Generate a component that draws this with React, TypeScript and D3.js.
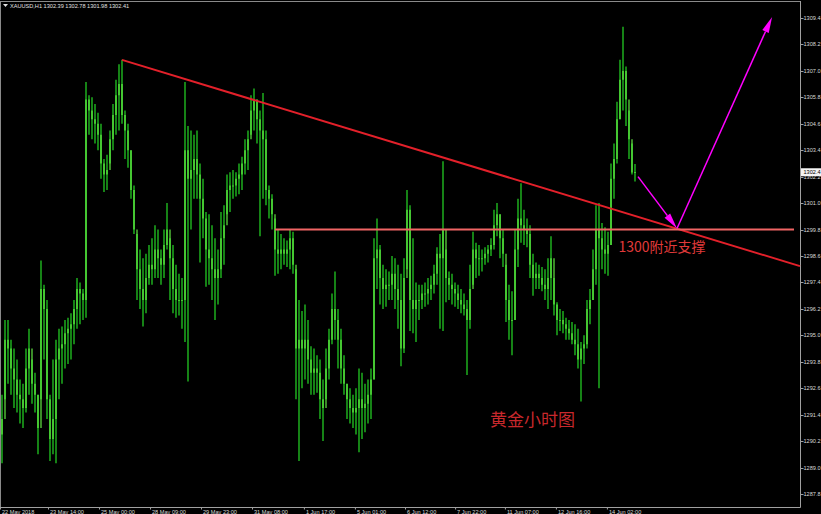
import React from "react";
import * as d3 from "d3";

// ---- data ----
const firstOpen = 1290.5;
const highs = [
  1292.3,1295.7,1295.7,1294.8,1294.4,1293.9,1293.0,1292.8,1294.4,1295.3,
  1293.9,1293.3,1292.3,1298.4,1297.3,1296.6,1292.3,1293.9,1294.8,1295.3,
  1295.4,1295.7,1295.8,1296.0,1296.6,1297.6,1297.4,1297.1,1306.5,1305.9,
  1305.8,1305.5,1305.1,1304.6,1303.0,1303.2,1304.3,1305.5,1306.6,1307.3,
  1307.5,1305.2,1304.6,1303.4,1301.8,1299.6,1298.9,1298.5,1298.7,1299.1,
  1299.4,1300.0,1299.8,1298.9,1299.8,1301.0,1299.4,1299.1,1298.2,1297.8,
  1297.6,1306.5,1304.5,1304.3,1304.1,1304.3,1302.8,1302.1,1300.6,1300.5,
  1300.0,1299.4,1298.9,1300.6,1300.9,1302.3,1302.4,1302.5,1302.4,1302.8,
  1303.1,1303.9,1304.3,1305.9,1306.2,1305.7,1305.2,1306.0,1304.3,1301.8,
  1301.4,1300.3,1299.8,1299.6,1299.4,1299.3,1299.8,1299.7,1298.0,1296.6,
  1296.1,1296.4,1295.7,1294.5,1294.4,1294.1,1293.9,1293.0,1294.4,1295.3,
  1296.9,1297.9,1296.2,1295.3,1294.1,1292.8,1292.6,1292.3,1292.6,1293.5,
  1293.3,1292.8,1293.0,1293.5,1299.4,1300.3,1299.1,1298.2,1298.0,1297.9,
  1298.6,1298.5,1298.2,1297.8,1298.5,1301.6,1300.9,1299.4,1297.4,1297.3,
  1297.3,1297.4,1297.6,1297.7,1298.2,1299.0,1299.6,1302.9,1298.9,1297.9,
  1297.8,1297.4,1297.3,1297.1,1296.9,1296.6,1298.2,1299.7,1299.2,1299.1,
  1298.9,1299.0,1299.1,1299.4,1300.7,1301.0,1300.5,1299.8,1298.2,1297.3,
  1297.0,1299.8,1301.2,1301.9,1300.7,1300.3,1300.0,1298.7,1298.3,1298.2,
  1298.1,1298.0,1298.5,1299.5,1297.6,1296.5,1296.2,1296.1,1295.8,1295.7,
  1295.6,1295.5,1295.3,1294.7,1295.0,1296.6,1297.1,1298.9,1300.9,1301.0,
  1300.1,1299.9,1299.7,1302.8,1303.7,1305.6,1307.5,1309.0,1307.2,1305.2,
  1303.7,1302.78,
];
const lows = [
  1289.2,1292.1,1292.8,1292.3,1291.7,1291.5,1291.0,1290.8,1291.5,1292.3,
  1291.9,1291.5,1289.6,1292.1,1293.9,1291.2,1289.3,1289.6,1289.2,1292.1,
  1292.8,1293.5,1293.7,1293.9,1294.6,1295.3,1295.5,1295.7,1295.8,1304.1,
  1303.9,1303.7,1303.4,1302.1,1301.5,1301.6,1302.8,1303.4,1304.1,1304.3,
  1304.6,1303.0,1302.6,1301.2,1299.6,1296.6,1296.2,1295.4,1296.0,1297.3,
  1297.3,1297.6,1297.6,1297.3,1297.6,1298.9,1296.6,1296.0,1295.8,1295.9,
  1295.3,1294.7,1292.9,1299.8,1301.2,1301.2,1298.3,1299.4,1297.2,1297.3,
  1296.6,1295.7,1296.4,1297.6,1298.2,1300.5,1300.6,1301.2,1301.3,1301.4,
  1301.6,1302.3,1302.5,1304.1,1304.3,1303.7,1299.5,1301.2,1300.9,1300.3,
  1299.8,1297.7,1297.8,1298.0,1298.2,1298.1,1298.0,1297.8,1292.1,1289.3,
  1292.6,1293.0,1292.8,1292.3,1292.3,1292.4,1291.2,1290.2,1292.1,1293.0,
  1294.6,1294.8,1293.5,1292.8,1292.3,1291.2,1291.0,1290.8,1290.5,1289.7,
  1290.3,1290.6,1291.0,1291.2,1293.0,1297.1,1296.4,1296.2,1296.3,1296.6,
  1296.6,1296.2,1295.3,1293.6,1294.2,1298.0,1295.2,1295.1,1294.7,1295.7,
  1296.2,1296.3,1296.4,1296.6,1296.9,1297.3,1295.3,1295.2,1296.5,1296.6,
  1296.4,1296.3,1296.2,1296.0,1295.9,1293.2,1295.3,1297.3,1297.6,1297.7,
  1297.9,1298.2,1298.3,1298.6,1298.9,1299.5,1298.5,1298.1,1295.6,1294.8,
  1294.1,1295.7,1298.1,1299.2,1299.1,1299.0,1297.6,1296.8,1297.1,1297.1,
  1297.0,1296.6,1296.2,1296.6,1295.9,1295.0,1295.2,1295.1,1294.8,1294.8,
  1294.6,1294.1,1293.5,1292.0,1293.7,1294.4,1295.5,1296.6,1297.3,1292.6,
  1298.0,1297.8,1297.7,1299.1,1301.2,1302.8,1304.8,1305.2,1304.5,1303.0,
  1302.3,1301.98,
];
const closes = [
  1291.2,1294.8,1294.4,1293.5,1293.0,1292.3,1292.1,1291.7,1293.5,1294.4,
  1292.8,1292.3,1290.8,1297.1,1296.2,1292.1,1290.3,1291.2,1293.9,1294.4,
  1294.6,1295.1,1295.3,1295.5,1296.2,1297.1,1296.9,1296.6,1305.7,1305.2,
  1304.8,1304.6,1304.1,1302.8,1302.3,1302.5,1303.9,1305.0,1305.9,1306.4,
  1305.0,1304.3,1303.4,1301.6,1299.8,1298.0,1297.1,1296.6,1297.6,1298.2,
  1298.0,1298.9,1298.5,1298.2,1299.1,1299.8,1298.5,1297.1,1296.6,1296.6,
  1296.6,1303.4,1302.1,1302.5,1303.0,1302.3,1301.2,1300.3,1298.9,1298.5,
  1298.0,1297.6,1298.0,1299.4,1300.0,1301.6,1301.8,1301.8,1302.1,1302.3,
  1302.8,1303.4,1303.9,1305.2,1305.7,1304.8,1304.3,1303.9,1301.6,1301.2,
  1300.5,1298.9,1298.7,1298.9,1298.7,1298.9,1299.4,1298.2,1294.4,1294.8,
  1294.4,1294.8,1293.9,1293.3,1293.5,1293.3,1292.1,1291.7,1293.5,1294.8,
  1296.2,1295.7,1294.8,1293.5,1292.8,1292.1,1291.7,1291.5,1291.7,1292.1,
  1291.7,1291.9,1292.3,1293.0,1298.5,1298.9,1297.6,1297.1,1297.3,1297.3,
  1297.8,1297.1,1296.6,1294.4,1297.6,1300.7,1296.6,1296.2,1296.6,1296.6,
  1296.9,1296.9,1297.1,1297.3,1297.8,1298.7,1298.5,1299.8,1297.6,1297.3,
  1297.1,1296.9,1296.6,1296.4,1296.2,1295.7,1297.1,1298.9,1298.5,1298.5,
  1298.5,1298.7,1298.9,1299.1,1300.0,1300.5,1299.4,1298.7,1296.6,1295.7,
  1295.7,1298.9,1300.3,1300.0,1299.8,1299.6,1298.2,1297.6,1297.8,1297.6,
  1297.3,1297.1,1297.6,1298.5,1296.4,1295.7,1295.7,1295.5,1295.3,1295.1,
  1294.8,1294.6,1293.9,1294.4,1294.6,1296.2,1296.6,1298.0,1299.8,1299.4,
  1298.9,1298.7,1299.1,1302.1,1303.0,1304.8,1306.6,1307.0,1305.7,1303.9,
  1302.39,1302.41,
];

const priceTicks = [
  1309.4,1308.2,1307.0,1305.8,1304.6,1303.4,1302.2,1301.0,1299.8,1298.6,
  1297.4,1296.2,1295.0,1293.8,1292.6,1291.4,1290.2,1289.0,1287.8,
];
const timeLabels = [
  "22 May 2018","23 May 14:00","25 May 00:00","28 May 09:00","29 May 23:00",
  "31 May 08:00","1 Jun 17:00","5 Jun 01:00","6 Jun 12:00","7 Jun 22:00",
  "11 Jun 07:00","12 Jun 16:00","14 Jun 02:00",
];
const timeLabelBar = [0, 16, 33, 50, 67, 84, 101.3, 118.3, 135, 151.7, 168.3, 185.3, 202.3];

const titleText = "XAUUSD,H1  1302.39 1302.78 1301.98 1302.41";
const lastPrice = 1302.4;

// annotations (bar index, price)
const trendLine = [ { bar: 40, price: 1307.5 }, { bar: 266, price: 1298.14 } ];
const supportLine = [ { bar: 91, price: 1299.8 }, { bar: 264, price: 1299.8 } ];
const arrowPath = [ { bar: 212, price: 1302.2 }, { bar: 225, price: 1299.85 }, { bar: 256.7, price: 1309.45 } ];
const supportLabel = { bar: 205.5, price: 1298.8, text: "1300附近支撑" };
const chartLabel = { bar: 162.7, price: 1290.9, text: "黄金小时图" };

const W = 821, H = 514;
const AXIS_X = 800.5, AXIS_Y = 507.5;

function arrow(x1: number, y1: number, x2: number, y2: number, len: number, half: number) {
  const dx = x2 - x1, dy = y2 - y1;
  const L = Math.hypot(dx, dy);
  const ux = dx / L, uy = dy / L;
  const bx = x2 - ux * len, by = y2 - uy * len;
  const px = -uy * half, py = ux * half;
  return {
    line: [x1, y1, bx, by],
    head: `${x2},${y2} ${bx + px},${by + py} ${bx - px},${by - py}`,
  };
}

export default function App() {
  const n = Math.min(highs.length, lows.length, closes.length);
  const x = d3.scaleLinear().domain([0, 211]).range([2, 635]);
  const y = d3.scaleLinear().domain([1287.8, 1309.4]).range([494, 18]);
  const opens = closes.map((c, i) => (i === 0 ? firstOpen : closes[i - 1]));
  const bars = d3.range(n);
  const fmt = d3.format(".1f");

  const pts = arrowPath.map((p) => [x(p.bar), y(p.price)]);
  const a1 = arrow(pts[0][0], pts[0][1], pts[1][0], pts[1][1], 16, 3.5);
  const a2 = arrow(pts[1][0], pts[1][1], pts[2][0], pts[2][1], 16, 3.5);

  return (
    <svg width={W} height={H} style={{ position: "absolute", left: 0, top: 0, display: "block" }}
      fontFamily="'Liberation Sans', Arial, sans-serif">
      <rect x={0} y={0} width={W} height={H} fill="#000" />
      {/* bars */}
      <g>
        {bars.map((i) => (
          <line key={"w" + i} x1={x(i)} x2={x(i)} y1={y(highs[i])} y2={y(lows[i])}
            stroke="#1b9a1b" strokeWidth={1.7} />
        ))}
        {bars.map((i) => {
          const t = y(Math.max(opens[i], closes[i]));
          const b = y(Math.min(opens[i], closes[i]));
          return (
            <line key={"b" + i} x1={x(i)} x2={x(i)} y1={t} y2={Math.max(b, t + 1)}
              stroke="#6cff4a" strokeWidth={1.1} />
          );
        })}
      </g>
      {/* frame */}
      <line x1={0.5} x2={0.5} y1={1} y2={AXIS_Y} stroke="#8a8a8a" />
      <line x1={0} x2={AXIS_X} y1={1.5} y2={1.5} stroke="#8a8a8a" />
      <line x1={AXIS_X} x2={AXIS_X} y1={1} y2={AXIS_Y} stroke="#a0a0a0" />
      <line x1={0} x2={AXIS_X} y1={AXIS_Y} y2={AXIS_Y} stroke="#a0a0a0" />
      {/* price axis */}
      {priceTicks.map((p) => (
        <g key={p}>
          <line x1={AXIS_X} x2={AXIS_X + 3} y1={Math.round(y(p)) + 0.5} y2={Math.round(y(p)) + 0.5} stroke="#a0a0a0" />
          <text x={803.5} y={y(p)} dy="0.35em" fontSize={5.6} fill="#d8d8d8">{fmt(p)}</text>
        </g>
      ))}
      <rect x={801} y={y(lastPrice) - 4} width={20} height={8} fill="#f4f4f4" />
      <text x={803.5} y={y(lastPrice)} dy="0.35em" fontSize={5.6} fill="#000">{fmt(lastPrice)}</text>
      {/* time axis */}
      {timeLabels.map((t, k) => (
        <g key={t}>
          <line x1={x(timeLabelBar[k]) - 1.5} x2={x(timeLabelBar[k]) - 1.5} y1={AXIS_Y} y2={AXIS_Y + 2} stroke="#a0a0a0" />
          <text x={x(timeLabelBar[k])} y={513.5} fontSize={5.6} fill="#d8d8d8">{t}</text>
        </g>
      ))}
      {/* title */}
      <polygon points="3,4 8,4 5.5,7" fill="#e0e0e0" />
      <text x={10} y={8} fontSize={5.6} fill="#e0e0e0">{titleText}</text>
      {/* annotations */}
      <line x1={x(trendLine[0].bar)} y1={y(trendLine[0].price)} x2={x(trendLine[1].bar)} y2={y(trendLine[1].price)}
        stroke="#e3202a" strokeWidth={2} />
      <line x1={x(supportLine[0].bar)} y1={y(supportLine[0].price)} x2={x(supportLine[1].bar)} y2={y(supportLine[1].price)}
        stroke="#f06464" strokeWidth={2} />
      <line x1={a1.line[0]} y1={a1.line[1]} x2={a1.line[2]} y2={a1.line[3]} stroke="#ff00ff" strokeWidth={1.5} />
      <polygon points={a1.head} fill="#ff00ff" />
      <line x1={a2.line[0]} y1={a2.line[1]} x2={a2.line[2]} y2={a2.line[3]} stroke="#ff00ff" strokeWidth={1.5} />
      <polygon points={a2.head} fill="#ff00ff" />
      <text x={x(supportLabel.bar)} y={y(supportLabel.price)} fontSize={14} fill="#e03a3a"
        fontFamily="'Noto Sans CJK SC', sans-serif">{supportLabel.text}</text>
      <text x={x(chartLabel.bar)} y={y(chartLabel.price)} fontSize={17} fill="#c8282c"
        fontFamily="'Noto Sans CJK SC', sans-serif">{chartLabel.text}</text>
    </svg>
  );
}
